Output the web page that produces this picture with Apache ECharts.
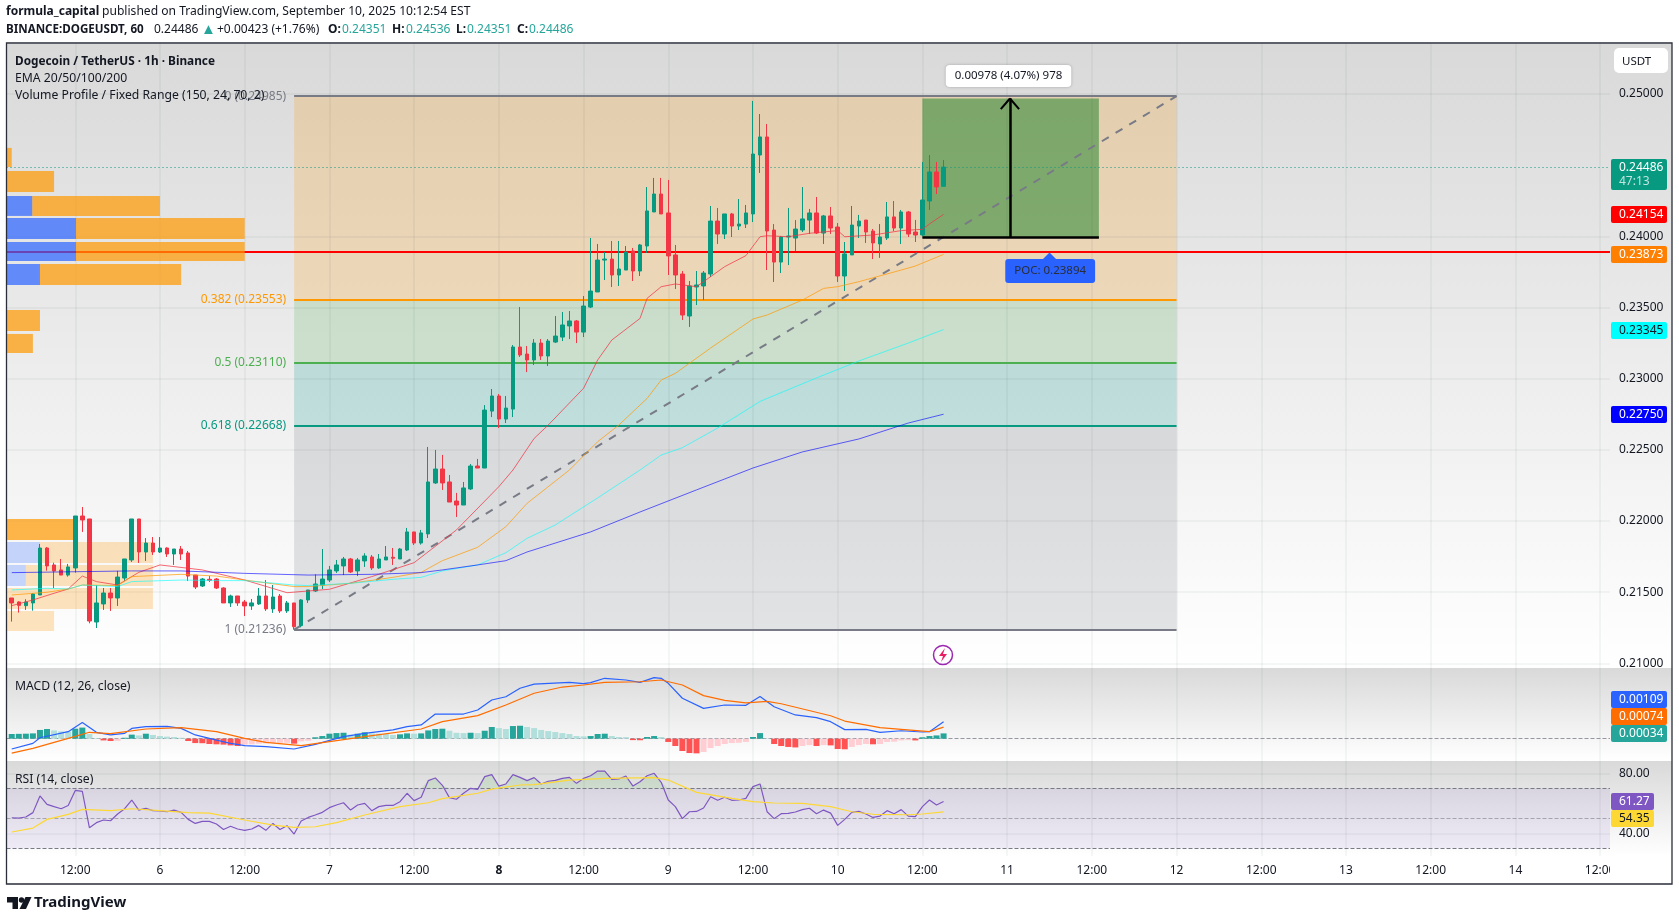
<!DOCTYPE html>
<html lang="en">
<head>
<meta charset="utf-8" />
<title>DOGEUSDT 1h</title>
<script src="https://cdn.jsdelivr.net/npm/echarts@6/dist/echarts.min.js"></script>
<style>
    html, body { margin: 0; background: #fff; }
    #main { width: 1679px; height: 921px; }
</style>
</head>
<body>
<div id="main"></div>
<script>
// hour 0 = Sep 5 12:00, one candle per hour starting at firstHour
const firstHour = -9

const candleOpen = [
0.21459,0.21431,0.21405,0.21424,0.21480,0.21810,0.21691,0.21656,0.21620,0.21670,
0.22035,0.22014,0.21290,0.21417,0.21494,0.21459,0.21599,0.21726,0.22014,0.21782,
0.21845,0.21782,0.21810,0.21768,0.21803,0.21775,0.21620,0.21543,0.21590,0.21592,
0.21529,0.21424,0.21473,0.21431,0.21403,0.21417,0.21473,0.21382,0.21473,0.21368,
0.21424,0.21265,0.21445,0.21508,0.21550,0.21585,0.21649,0.21684,0.21733,0.21649,
0.21719,0.21747,0.21670,0.21726,0.21745,0.21733,0.21796,0.21923,0.21845,0.21909,
0.22267,0.22365,0.22274,0.22140,0.22112,0.22225,0.22386,0.22372,0.22772,0.22878,
0.22716,0.22786,0.23222,0.23173,0.23131,0.23250,0.23159,0.23257,0.23292,0.23370,
0.23405,0.23327,0.23503,0.23609,0.23833,0.23840,0.23728,0.23763,0.23897,0.23756,
0.23932,0.24171,0.24297,0.24164,0.23869,0.23735,0.23440,0.23644,0.23651,0.23735,
0.24107,0.24016,0.24157,0.24072,0.24086,0.24157,0.24571,0.24698,0.24044,0.23819,
0.23995,0.23988,0.24044,0.24114,0.24164,0.24023,0.24143,0.24065,0.23721,0.23869,
0.24072,0.24114,0.24037,0.23946,0.23988,0.24136,0.24058,0.24171,0.24030,0.24009,
0.24248,0.24452,0.24351]
const candleClose = [
0.21424,0.21407,0.21431,0.21487,0.21810,0.21684,0.21649,0.21620,0.21677,0.22035,
0.22007,0.21297,0.21424,0.21494,0.21459,0.21606,0.21733,0.22014,0.21782,0.21845,
0.21782,0.21810,0.21768,0.21803,0.21768,0.21613,0.21536,0.21592,0.21583,0.21529,
0.21424,0.21473,0.21424,0.21403,0.21424,0.21473,0.21382,0.21466,0.21368,0.21424,
0.21257,0.21445,0.21515,0.21557,0.21592,0.21656,0.21691,0.21733,0.21642,0.21726,
0.21754,0.21670,0.21733,0.21747,0.21738,0.21803,0.21923,0.21845,0.21916,0.22274,
0.22365,0.22267,0.22133,0.22112,0.22232,0.22386,0.22372,0.22779,0.22878,0.22716,
0.22793,0.23222,0.23166,0.23131,0.23250,0.23159,0.23264,0.23299,0.23377,0.23405,
0.23327,0.23510,0.23615,0.23833,0.23840,0.23728,0.23770,0.23890,0.23756,0.23939,
0.24178,0.24297,0.24157,0.23862,0.23728,0.23447,0.23651,0.23658,0.23742,0.24107,
0.24016,0.24157,0.24072,0.24086,0.24164,0.24578,0.24698,0.24037,0.23819,0.23995,
0.24002,0.24051,0.24122,0.24164,0.24023,0.24143,0.24058,0.23721,0.23876,0.24079,
0.24107,0.24030,0.23953,0.23995,0.24136,0.24058,0.24171,0.24016,0.24009,0.24255,
0.24452,0.24347,0.24486]
const candleLow = [
0.21293,0.21356,0.21375,0.21370,0.21480,0.21651,0.21529,0.21620,0.21609,0.21637,
0.21923,0.21281,0.21248,0.21375,0.21368,0.21403,0.21578,0.21712,0.21705,0.21719,
0.21761,0.21775,0.21747,0.21691,0.21726,0.21578,0.21522,0.21536,0.21571,0.21522,
0.21424,0.21396,0.21403,0.21332,0.21375,0.21410,0.21368,0.21354,0.21354,0.21354,
0.21236,0.21253,0.21424,0.21501,0.21522,0.21571,0.21635,0.21620,0.21635,0.21613,
0.21677,0.21656,0.21663,0.21726,0.21691,0.21733,0.21789,0.21831,0.21834,0.21880,
0.22260,0.22218,0.22133,0.22028,0.22112,0.22218,0.22372,0.22372,0.22730,0.22653,
0.22688,0.22730,0.23152,0.23046,0.23096,0.23131,0.23089,0.23250,0.23264,0.23278,
0.23250,0.23292,0.23496,0.23609,0.23693,0.23644,0.23651,0.23763,0.23686,0.23721,
0.23883,0.24171,0.24157,0.23728,0.23630,0.23412,0.23363,0.23517,0.23552,0.23714,
0.23946,0.23981,0.23995,0.24044,0.24058,0.24100,0.24445,0.23763,0.23679,0.23742,
0.23798,0.23897,0.24030,0.24016,0.24016,0.23946,0.24016,0.23679,0.23616,0.23869,
0.23988,0.23953,0.23840,0.23848,0.23974,0.24037,0.23946,0.23995,0.23960,0.24002,
0.24185,0.24297,0.24351]
const candleHigh = [
0.21459,0.21435,0.21450,0.21492,0.21838,0.21817,0.21707,0.21733,0.21698,0.22035,
0.22098,0.22014,0.21550,0.21529,0.21529,0.21649,0.21733,0.22014,0.22014,0.21880,
0.21887,0.21887,0.21815,0.21803,0.21824,0.21789,0.21620,0.21599,0.21613,0.21599,
0.21534,0.21482,0.21473,0.21445,0.21452,0.21529,0.21585,0.21550,0.21487,0.21438,
0.21424,0.21450,0.21515,0.21625,0.21803,0.21684,0.21726,0.21747,0.21740,0.21740,
0.21773,0.21761,0.21768,0.21824,0.21810,0.21810,0.21951,0.21923,0.21937,0.22520,
0.22499,0.22464,0.22323,0.22197,0.22274,0.22400,0.22436,0.22814,0.22927,0.22892,
0.22878,0.23236,0.23503,0.23229,0.23278,0.23278,0.23278,0.23440,0.23468,0.23475,
0.23412,0.23580,0.23988,0.23946,0.23890,0.23967,0.23967,0.23932,0.23918,0.23946,
0.24346,0.24410,0.24410,0.24396,0.23939,0.23756,0.23686,0.23756,0.23756,0.24213,
0.24199,0.24157,0.24164,0.24262,0.24220,0.24951,0.24859,0.24789,0.24086,0.24002,
0.24199,0.24114,0.24346,0.24192,0.24276,0.24150,0.24206,0.24093,0.23960,0.24213,
0.24150,0.24114,0.24051,0.24086,0.24241,0.24248,0.24185,0.24178,0.24115,0.24522,
0.24571,0.24522,0.24536]

const ema20Hours = [-9,-6,-3,-1,1,3,6,9,12,18,24,30,36,42,48,54,60,62,65,67,72,74,76,80,81,83,85,88,89,92,95,97,98,101,104,108,109,113,117,120,121,123]
const ema20Values = [0.21405,0.21445,0.21492,0.21522,0.21613,0.21574,0.21550,0.21639,0.21691,0.21656,0.21585,0.21496,0.21520,0.21609,0.21707,0.21937,0.22241,0.22358,0.22580,0.22674,0.22932,0.23131,0.23271,0.23423,0.23564,0.23646,0.23665,0.23646,0.23681,0.23787,0.23864,0.23997,0.24004,0.23997,0.24021,0.24040,0.23997,0.24009,0.24040,0.24049,0.24087,0.24154]
const ema50Hours = [-9,-4,-1,1,6,8,15,20,24,31,33,39,45,49,52,57,61,64,70,74,77,81,83,85,90,96,98,103,106,108,111,117,119,123]
const ema50Values = [0.21480,0.21499,0.21522,0.21550,0.21546,0.21609,0.21625,0.21613,0.21585,0.21539,0.21539,0.21562,0.21604,0.21639,0.21721,0.21815,0.21960,0.22124,0.22358,0.22557,0.22674,0.22861,0.22990,0.23037,0.23215,0.23419,0.23447,0.23552,0.23634,0.23646,0.23681,0.23763,0.23791,0.23873]
const ema100Hours = [-9,-4,-1,1,6,8,15,20,24,31,33,39,45,49,52,57,61,64,68,74,80,83,86,91,97,105,111,118,123]
const ema100Values = [0.21515,0.21527,0.21522,0.21550,0.21539,0.21574,0.21585,0.21581,0.21581,0.21550,0.21546,0.21562,0.21590,0.21604,0.21649,0.21691,0.21777,0.21878,0.21972,0.22162,0.22358,0.22463,0.22515,0.22653,0.22840,0.23005,0.23124,0.23250,0.23345]
const ema200Hours = [-9,8,15,24,33,42,49,52,57,61,64,73,80,88,96,103,111,118,123]
const ema200Values = [0.21637,0.21649,0.21649,0.21632,0.21620,0.21625,0.21637,0.21656,0.21691,0.21721,0.21782,0.21923,0.22063,0.22218,0.22372,0.22485,0.22576,0.22688,0.22750]

const macdHist = [
0.00030,0.00031,0.00032,0.00034,0.00056,0.00062,0.00053,0.00047,0.00045,0.00064,
0.00071,0.00030,0.00004,-0.00011,-0.00015,-0.00014,0.00006,0.00026,0.00021,0.00032,
0.00024,0.00017,0.00013,0.00011,0.00006,-0.00015,-0.00028,-0.00029,-0.00034,-0.00036,
-0.00038,-0.00043,-0.00047,-0.00038,-0.00036,-0.00032,-0.00030,-0.00028,-0.00027,-0.00026,
-0.00032,-0.00017,-0.00013,0.00009,0.00017,0.00032,0.00036,0.00038,0.00026,0.00032,
0.00041,0.00034,0.00032,0.00030,0.00024,0.00028,0.00034,0.00032,0.00034,0.00053,
0.00062,0.00064,0.00051,0.00038,0.00036,0.00038,0.00036,0.00051,0.00075,0.00068,
0.00062,0.00081,0.00083,0.00075,0.00068,0.00056,0.00049,0.00043,0.00036,0.00030,
0.00017,0.00015,0.00017,0.00030,0.00032,0.00017,0.00011,0.00010,-0.00009,-0.00010,
0.00011,0.00017,0.00011,-0.00021,-0.00047,-0.00079,-0.00092,-0.00094,-0.00085,-0.00060,
-0.00047,-0.00034,-0.00028,-0.00026,-0.00021,0.00011,0.00036,0.00002,-0.00034,-0.00047,
-0.00053,-0.00056,-0.00047,-0.00041,-0.00047,-0.00041,-0.00043,-0.00066,-0.00068,-0.00053,
-0.00041,-0.00034,-0.00036,-0.00034,-0.00021,-0.00019,-0.00011,-0.00009,-0.00011,0.00009,
0.00017,0.00021,0.00034]
const macdHours = [-9,-6,-5,-1,1,3,5,7,8,10,13,15,17,20,22,24,27,31,34,38,41,45,47,49,51,55,57,59,61,63,65,70,72,73,75,78,80,82,83,84,86,89,92,95,97,99,102,105,107,109,112,114,117,120,121,123]
const macdValues = [-0.00066,-0.00030,0.00006,0.00045,0.00103,0.00041,0.00024,0.00034,0.00066,0.00077,0.00079,0.00066,0.00024,-0.00009,-0.00030,-0.00045,-0.00051,-0.00066,-0.00036,0.00013,0.00034,0.00056,0.00077,0.00088,0.00158,0.00158,0.00184,0.00248,0.00269,0.00323,0.00350,0.00361,0.00353,0.00359,0.00387,0.00376,0.00361,0.00391,0.00387,0.00355,0.00259,0.00194,0.00216,0.00214,0.00271,0.00205,0.00152,0.00135,0.00109,0.00058,0.00060,0.00041,0.00051,0.00043,0.00045,0.00109]
const signalHours = [-9,-6,-1,2,5,10,15,20,24,27,32,36,41,49,52,57,61,65,69,72,75,80,83,86,89,92,95,98,100,107,109,114,117,121,123]
const signalValues = [-0.00092,-0.00062,0.00002,0.00041,0.00032,0.00062,0.00071,0.00045,0.00002,-0.00024,-0.00045,-0.00019,0.00013,0.00062,0.00109,0.00148,0.00216,0.00291,0.00331,0.00344,0.00361,0.00365,0.00376,0.00344,0.00276,0.00246,0.00229,0.00239,0.00224,0.00147,0.00113,0.00071,0.00060,0.00045,0.00074]

const rsiValues = [
50.4,50.2,50.9,53.8,64.9,59.3,57.8,56.4,58.6,68.6,68.0,43.8,47.1,48.9,48.4,52.9,56.4,62.2,55.5,56.7,
55.1,54.9,54.4,55.5,54.0,49.3,46.6,48.0,48.0,46.2,42.6,44.7,42.9,42.0,42.9,45.3,42.0,46.6,42.6,45.1,
39.5,48.2,50.6,52.2,54.0,57.1,58.9,60.4,55.5,58.9,60.0,55.1,57.8,58.6,58.6,61.1,66.7,61.8,64.0,75.1,
76.9,72.0,63.8,62.7,66.7,70.0,69.3,77.8,79.1,71.5,72.9,79.1,77.3,75.1,77.1,72.9,74.7,75.3,76.6,77.3,
73.3,76.6,78.4,81.5,81.5,76.0,76.2,78.2,71.5,74.4,78.4,80.0,74.0,62.2,57.8,49.8,54.4,54.6,56.9,64.4,
62.0,64.0,62.0,62.2,63.3,71.1,72.9,54.4,49.8,53.1,53.3,54.2,55.8,56.7,53.1,55.5,53.5,45.3,49.3,54.0,
54.6,52.9,50.6,51.5,55.1,53.1,55.8,51.5,51.1,57.8,62.2,58.9,61.27]
const rsiMaHours = [-9,-6,-4,-1,1,5,8,12,16,19,24,28,31,34,37,41,46,50,52,57,59,63,65,70,75,82,84,88,93,96,99,103,107,110,113,118,120,123]
const rsiMaValues = [40.9,43.5,49.3,52.6,56.0,55.1,56.4,55.1,53.8,53.5,48.9,45.5,44.0,44.4,47.1,52.2,57.8,60.4,63.1,66.7,69.5,72.2,72.4,75.5,76.6,77.1,75.5,67.3,63.3,61.1,60.2,60.0,57.8,54.4,52.7,52.4,52.9,54.35]

// volume profile rows, top to bottom: price range and where blue / orange end (in chart hours)
const vpPriceLow  = [0.24487,0.24311,0.24143,0.23981,0.23827,0.23658,0.23335,0.23180,0.21866,0.21705,0.21543,0.21382,0.21227]
const vpPriceHigh = [0.24621,0.24459,0.24283,0.24129,0.23960,0.23806,0.23482,0.23314,0.22014,0.21852,0.21691,0.21529,0.21368]
const vpBlueEnd   = [-9.74,-9.74,-6.1,0.1,0.1,-5,-9.74,-9.74,-9.74,-5,-7,-9.74,-9.74]
const vpOrangeEnd = [-9,-3,12,24,24,15,-5,-6,-0.3,11,11,11,-3]

const priceTicks = [0.25,0.24,0.235,0.23,0.225,0.22,0.215,0.21]
const rsiTicks = [80,40]
const fibLevels = [0.24985,0.23553,0.23110,0.22668,0.21236]
const fibNames = ['0','0.382','0.5','0.618','1']
const fibStartHour = 31
const fibEndHour = 156
const pocPrice = 0.23894
const lastPrice = 0.24486
const boxStartHour = 120
const boxEndHour = 145
const boxArrowHour = 132.4
const boxLow = 0.2399
const boxHigh = 0.24968

const timeTickHours = [0,12,24,36,48,60,72,84,96,108,120,132,144,156,168,180,192,204,216]
const timeTickLabels = ['12:00','6','12:00','7','12:00','8','12:00','9','12:00','10','12:00','11','12:00','12','12:00','13','12:00','14','12:00']

const ink = '#131722'
const uiFont = '"Noto Sans", sans-serif'
const gridColor = 'rgba(42,46,57,0.06)'
const grey = '#787b86'
const upColor = '#089981'
const downColor = '#f23645'

let chart = echarts.init(document.getElementById('main'), null, { renderer: 'canvas' })

const pairs = (xs, ys) => xs.map((x, i) => [x, ys[i]])
const hourly = ys => ys.map((y, i) => [firstHour + i, y])

// panes share the same horizontal mapping
const xMin = -9.74
const xMax = 217.4
const panes = [
    { top: 43, height: 625 },
    { top: 668, height: 93 },
    { top: 761, height: 95 },
]
const grids = panes.map(p => ({ left: 6.5, width: 1603.5, top: p.top, height: p.height }))
const xAxes = panes.map((p, i) => ({
    type: 'value', gridIndex: i, min: xMin, max: xMax,
    axisLine: { show: false }, axisTick: { show: false }, splitLine: { show: false },
    axisLabel: {
        show: i === 2, color: ink, fontSize: 12, fontFamily: uiFont, margin: 9,
        customValues: timeTickHours,
        formatter: function (v) {
            let k = timeTickHours.indexOf(v)
            if (k < 0) return ''
            return timeTickLabels[k] === '8' ? '{b|8}' : timeTickLabels[k]
        },
        rich: { b: { fontWeight: 'bold', fontSize: 12, fontFamily: uiFont, color: ink } }
    }
}))
const yAxes = [
    {
        type: 'value', gridIndex: 0, position: 'right', min: 0.20967, max: 0.25358, scale: true,
        axisLine: { show: false }, axisTick: { show: false }, splitLine: { show: false },
        axisLabel: {
            color: ink, fontSize: 12, fontFamily: uiFont, margin: 9, customValues: priceTicks,
            formatter: v => v.toFixed(5)
        }
    },
    {
        type: 'value', gridIndex: 1, position: 'right', min: -0.00143, max: 0.00453, scale: true,
        axisLine: { show: false }, axisTick: { show: false }, splitLine: { show: false }, axisLabel: { show: false }
    },
    {
        type: 'value', gridIndex: 2, position: 'right', min: 24.9, max: 88.2, scale: true,
        axisLine: { show: false }, axisTick: { show: false }, splitLine: { show: false },
        axisLabel: {
            color: ink, fontSize: 12, fontFamily: uiFont, margin: 9, customValues: rsiTicks,
            formatter: v => v.toFixed(2)
        }
    }
]

// vertical gridlines of one pane
const timeLines = () => timeTickHours.map(h => ({ xAxis: h, lineStyle: { color: gridColor, width: 1.5, type: 'solid' }, label: { show: false } }))

function fibLine(i, color, width) {
    return [
        {
            coord: [fibStartHour, fibLevels[i]],
            lineStyle: { color: color, width: width, type: 'solid' },
            label: {
                show: true, position: 'start', color: color, fontSize: 12, fontFamily: uiFont, distance: 8,
                formatter: fibNames[i] + ' (' + fibLevels[i].toFixed(5) + ')'
            }
        },
        { coord: [fibEndHour, fibLevels[i]] }
    ]
}
function plainSegment(x1, y1, x2, y2, color, width) {
    return [
        { coord: [x1, y1], lineStyle: { color: color, width: width, type: 'solid' }, label: { show: false } },
        { coord: [x2, y2] }
    ]
}
const lineOf = (name, xs, ys, color, x, y, width) => ({
    name: name, type: 'line', data: pairs(xs, ys), xAxisIndex: x, yAxisIndex: y, showSymbol: false, symbol: 'none',
    silent: true, z: 4, lineStyle: { color: color, width: width || 1 }
})

const series = [
    // fib zones, gridlines, red POC line and trend line sit under the candles
    {
        name: 'overlay', type: 'line', data: [], xAxisIndex: 0, yAxisIndex: 0, silent: true,
        markArea: {
            silent: true, z: 1,
            data: [
                [{ coord: [fibStartHour, fibLevels[0]], itemStyle: { color: 'rgba(255,152,0,0.2)' } }, { coord: [fibEndHour, fibLevels[1]] }],
                [{ coord: [fibStartHour, fibLevels[1]], itemStyle: { color: 'rgba(76,175,80,0.2)' } }, { coord: [fibEndHour, fibLevels[2]] }],
                [{ coord: [fibStartHour, fibLevels[2]], itemStyle: { color: 'rgba(0,150,136,0.2)' } }, { coord: [fibEndHour, fibLevels[3]] }],
                [{ coord: [fibStartHour, fibLevels[3]], itemStyle: { color: 'rgba(120,123,134,0.2)' } }, { coord: [fibEndHour, fibLevels[4]] }],
            ]
        },
        markLine: {
            silent: true, symbol: 'none', z: 1, animation: false, precision: 5, label: { show: false },
            data: priceTicks.map(v => ({ yAxis: v, lineStyle: { color: gridColor, width: 1.5, type: 'solid' }, label: { show: false } })).concat(timeLines()).concat([
                { yAxis: pocPrice, lineStyle: { color: '#ff0000', width: 2, type: 'solid' }, label: { show: false } },
                { yAxis: lastPrice, lineStyle: { color: upColor, width: 1, type: [1, 3] }, label: { show: false } },
                fibLine(0, grey, 2), fibLine(1, '#ff9800', 2), fibLine(2, '#4caf50', 2), fibLine(3, '#089981', 2), fibLine(4, grey, 2),
                [
                    { coord: [fibStartHour, fibLevels[4]], lineStyle: { color: grey, width: 2, type: [8, 8] }, label: { show: false } },
                    { coord: [fibEndHour, fibLevels[0]] }
                ]
            ])
        }
    },
    {
        name: 'profile', type: 'custom', xAxisIndex: 0, yAxisIndex: 0, silent: true, z: 1, clip: true,
        data: vpPriceLow.map((low, i) => [low, vpPriceHigh[i], vpBlueEnd[i], vpOrangeEnd[i], i]),
        renderItem: function (params, api) {
            let a = api.coord([xMin, api.value(1)])
            let b = api.coord([api.value(2), api.value(0)])
            let c = api.coord([api.value(3), api.value(0)])
            let faded = api.value(4) > 8
            return {
                type: 'group',
                children: [
                    { type: 'rect', shape: { x: b[0], y: a[1], width: c[0] - b[0], height: b[1] - a[1] }, style: { fill: faded ? 'rgba(255,152,0,0.25)' : 'rgba(255,152,0,0.7)' } },
                    { type: 'rect', shape: { x: a[0], y: a[1], width: b[0] - a[0], height: b[1] - a[1] }, style: { fill: faded ? 'rgba(41,98,255,0.25)' : 'rgba(41,98,255,0.7)' } },
                ]
            }
        }
    },
    {
        name: 'box', type: 'line', data: [], xAxisIndex: 0, yAxisIndex: 0, silent: true,
        markArea: {
            silent: true, z: 1,
            data: [[{ coord: [boxStartHour, boxHigh], itemStyle: { color: 'rgba(56,142,60,0.6)' } }, { coord: [boxEndHour, boxLow] }]]
        }
    },
    {
        name: 'DOGEUSDT', type: 'candlestick', xAxisIndex: 0, yAxisIndex: 0, silent: true, z: 3,
        barWidth: 4,
        encode: { x: 0, y: [1, 2, 3, 4] },
        itemStyle: { color: upColor, color0: downColor, borderColor: upColor, borderColor0: downColor, borderWidth: 1 },
        data: candleOpen.map((o, i) => [firstHour + i, o, candleClose[i], candleLow[i], candleHigh[i]])
    },
    lineOf('EMA20', ema20Hours, ema20Values, 'rgba(242,54,69,0.75)', 0, 0),
    lineOf('EMA50', ema50Hours, ema50Values, 'rgba(255,152,0,0.7)', 0, 0),
    lineOf('EMA100', ema100Hours, ema100Values, 'rgba(0,255,255,0.6)', 0, 0),
    lineOf('EMA200', ema200Hours, ema200Values, 'rgba(0,0,255,0.6)', 0, 0),
    // long box arrow and its labels
    {
        name: 'annotations', type: 'line', data: [], xAxisIndex: 0, yAxisIndex: 0, silent: true,
        markLine: {
            silent: true, symbol: 'none', z: 6, animation: false, precision: 5,
            data: [
                plainSegment(boxStartHour, boxLow, boxEndHour, boxLow, '#000', 2.5),
                plainSegment(boxArrowHour, boxLow, boxArrowHour, boxHigh, '#000', 2.5),
                plainSegment(boxArrowHour, boxHigh, boxArrowHour - 1.3, boxHigh - 0.00075, '#000', 2),
                plainSegment(boxArrowHour, boxHigh, boxArrowHour + 1.3, boxHigh - 0.00075, '#000', 2),
            ]
        },
        markPoint: {
            silent: true, z: 6, animation: false,
            data: [
                {
                    coord: [132.2, 0.25126], symbol: 'circle', symbolSize: 0,
                    label: {
                        show: true, position: 'inside', formatter: '0.00978 (4.07%) 978', color: ink, fontSize: 11.5, fontFamily: uiFont,
                        backgroundColor: '#fff', borderRadius: 4, padding: [5, 9], shadowColor: 'rgba(0,0,0,0.25)', shadowBlur: 3
                    }
                },
                { coord: [138, 0.23858], symbol: 'triangle', symbolSize: [16, 8], itemStyle: { color: '#2962ff' }, label: { show: false } },
                {
                    coord: [138.1, 0.23756], symbol: 'circle', symbolSize: 0,
                    label: {
                        show: true, position: 'inside', formatter: 'POC: 0.23894', color: '#2a2e39', fontSize: 11.5, fontFamily: uiFont,
                        backgroundColor: '#2962ff', borderRadius: 3, padding: [6, 9]
                    }
                },
            ]
        }
    },
    // MACD
    {
        name: 'Histogram', type: 'bar', xAxisIndex: 1, yAxisIndex: 1, barWidth: 6, silent: true, z: 2,
        encode: { x: 0, y: 1 },
        data: hourly(macdHist),
        itemStyle: {
            color: function (p) {
                let v = macdHist[p.dataIndex]
                let prev = p.dataIndex > 0 ? macdHist[p.dataIndex - 1] : v
                if (v >= 0) return v >= prev ? '#26a69a' : '#b2dfdb'
                return v <= prev ? '#ff5252' : '#ffcdd2'
            }
        },
        markLine: {
            silent: true, symbol: 'none', z: 1, animation: false, precision: 5, label: { show: false },
            data: timeLines().concat([{ yAxis: 0, lineStyle: { color: '#9598a1', width: 1, type: 'dashed' }, label: { show: false } }])
        }
    },
    lineOf('MACD', macdHours, macdValues, '#2962ff', 1, 1, 1.2),
    lineOf('Signal', signalHours, signalValues, '#ff6d00', 1, 1, 1.2),
    // RSI
    {
        name: 'overbought', type: 'line', data: hourly(rsiValues.map(v => Math.max(v, 70))), xAxisIndex: 2, yAxisIndex: 2,
        showSymbol: false, silent: true, z: 2, lineStyle: { width: 0, opacity: 0 },
        areaStyle: { origin: 70, color: 'rgba(76,175,80,0.22)' },
        markArea: {
            silent: true, z: 1,
            data: [[{ yAxis: 70, itemStyle: { color: 'rgba(126,87,194,0.1)' } }, { yAxis: 30 }]]
        },
        markLine: {
            silent: true, symbol: 'none', z: 1, animation: false, label: { show: false },
            data: timeLines().concat([
                { yAxis: 80, lineStyle: { color: gridColor, width: 1.5, type: 'solid' }, label: { show: false } },
                { yAxis: 40, lineStyle: { color: gridColor, width: 1.5, type: 'solid' }, label: { show: false } },
                { yAxis: 70, lineStyle: { color: grey, width: 1, type: 'dashed' }, label: { show: false } },
                { yAxis: 50, lineStyle: { color: 'rgba(120,123,134,0.6)', width: 1, type: 'dashed' }, label: { show: false } },
                { yAxis: 30, lineStyle: { color: grey, width: 1, type: 'dashed' }, label: { show: false } },
            ])
        }
    },
    lineOf('RSI', hourly(rsiValues).map(p => p[0]), rsiValues, '#7e57c2', 2, 2, 1.2),
    lineOf('RSI MA', rsiMaHours, rsiMaValues, '#fdd835', 2, 2, 1.2),
]

// ---- page furniture: pane backgrounds, frame, header and price tags
function paneBg(top, height) {
    return {
        type: 'rect', z: -10, silent: true,
        shape: { x: 7, y: top, width: 1665, height: height },
        style: { fill: new echarts.graphic.LinearGradient(0, 0, 0, 1, [{ offset: 0, color: '#d9d9d9' }, { offset: 1, color: '#ffffff' }]) }
    }
}
function txt(x, y, text, extra) {
    return Object.assign({
        type: 'text', x: x, y: y, z: 120, silent: true,
        style: Object.assign({ text: text, fill: ink, font: '12px ' + uiFont, verticalAlign: 'middle' }, extra || {})
    })
}
function tag(top, height, width, color, textColor, label) {
    return [
        { type: 'rect', z: 110, silent: true, shape: { x: 1611, y: top, width: width, height: height, r: 2 }, style: { fill: color } },
        txt(1619, top + 9, label, { fill: textColor })
    ]
}
const boldFont = 'bold 12px ' + uiFont
const tealText = { fill: '#26a69a' }

let furniture = [
    paneBg(44, 624), paneBg(668, 93), paneBg(761, 95),
    { type: 'rect', z: -9, silent: true, shape: { x: 7, y: 856, width: 1665, height: 28 }, style: { fill: '#fff' } },
    // covers the part of the last time label that runs under the price scale
    { type: 'rect', z: 100, silent: true, shape: { x: 1610, y: 857, width: 61, height: 26 }, style: { fill: '#fff' } },
    { type: 'rect', z: 130, silent: true, shape: { x: 6.5, y: 43, width: 1665.5, height: 841 }, style: { fill: 'none', stroke: '#2a2e39', lineWidth: 1.3 } },
    { type: 'rect', z: 110, silent: true, shape: { x: 1614, y: 48, width: 54, height: 25, r: 5 }, style: { fill: '#fff' } },
    txt(1622, 61.5, 'USDT', { font: '11.5px ' + uiFont }),
    txt(6, 12, 'formula_capital', { font: boldFont }),
    txt(102, 12, 'published on TradingView.com, September 10, 2025 10:12:54 EST', { font: '12.1px ' + uiFont }),
    txt(6, 30, 'BINANCE:DOGEUSDT, 60', { font: 'bold 11.6px ' + uiFont }),
    txt(154, 30, '0.24486'),
    txt(201, 30, '▲', Object.assign({ font: '15px ' + uiFont }, tealText)),
    txt(217, 30, '+0.00423 (+1.76%)'),
    txt(328, 30, 'O:', { font: boldFont }),
    txt(342, 30, '0.24351', tealText),
    txt(392, 30, 'H:', { font: boldFont }),
    txt(406, 30, '0.24536', tealText),
    txt(456, 30, 'L:', { font: boldFont }),
    txt(467, 30, '0.24351', tealText),
    txt(517, 30, 'C:', { font: boldFont }),
    txt(529, 30, '0.24486', tealText),
    txt(15, 62, 'Dogecoin / TetherUS · 1h · Binance', { font: 'bold 11.8px ' + uiFont }),
    txt(15, 79, 'EMA 20/50/100/200', { font: '12.2px ' + uiFont }),
    txt(15, 96, 'Volume Profile / Fixed Range (150, 24, 70, 2)', { font: '12.2px ' + uiFont }),
    txt(15, 687, 'MACD (12, 26, close)', { font: '12.2px ' + uiFont }),
    txt(15, 780, 'RSI (14, close)', { font: '12.2px ' + uiFont }),
    // TradingView mark
    { type: 'polygon', z: 120, silent: true, shape: { points: [[7, 897], [18, 897], [18, 909], [12.5, 909], [12.5, 902.5], [7, 902.5]] }, style: { fill: ink } },
    { type: 'circle', z: 120, silent: true, shape: { cx: 21.5, cy: 900, r: 2.7 }, style: { fill: ink } },
    { type: 'polygon', z: 120, silent: true, shape: { points: [[25.5, 897], [31.5, 897], [26, 909], [19.5, 909]] }, style: { fill: ink } },
    txt(34, 903, 'TradingView', { font: 'bold 15px ' + uiFont }),
    // bolt marker under the last candle
    { type: 'circle', z: 120, silent: true, shape: { cx: 943, cy: 655, r: 9.5 }, style: { fill: '#fff', stroke: '#9c27b0', lineWidth: 1.5 } },
    { type: 'polygon', z: 121, silent: true, shape: { points: [[945, 648], [939, 656], [943, 656], [941, 662], [947, 654], [943, 654]] }, style: { fill: '#e91e63' } },
]
furniture = furniture
    .concat([
        { type: 'rect', z: 110, silent: true, shape: { x: 1611, y: 159, width: 56, height: 31, r: 2 }, style: { fill: upColor } },
        txt(1619, 168, '0.24486', { fill: '#fff' }),
        txt(1619, 182, '47:13', { fill: 'rgba(255,255,255,0.75)' }),
    ])
    .concat(tag(206, 17, 56, '#ff0000', '#fff', '0.24154'))
    .concat(tag(246, 17, 56, '#ff7f00', '#fff', '0.23873'))
    .concat(tag(322, 17, 56, '#00ffff', ink, '0.23345'))
    .concat(tag(406, 17, 56, '#0000ff', '#fff', '0.22750'))
    .concat(tag(691, 17, 56, '#2962ff', '#fff', '0.00109'))
    .concat(tag(708, 17, 56, '#ff6d00', '#fff', '0.00074'))
    .concat(tag(725, 17, 56, '#26a69a', '#fff', '0.00034'))
    .concat(tag(793, 17, 43, '#7e57c2', '#fff', '61.27'))
    .concat(tag(810, 17, 43, '#fdd835', ink, '54.35'))

chart.setOption({
    animation: false,
    backgroundColor: '#fff',
    textStyle: { fontFamily: uiFont },
    grid: grids,
    xAxis: xAxes,
    yAxis: yAxes,
    graphic: { elements: furniture },
    series: series
})
</script>
</body>
</html>
